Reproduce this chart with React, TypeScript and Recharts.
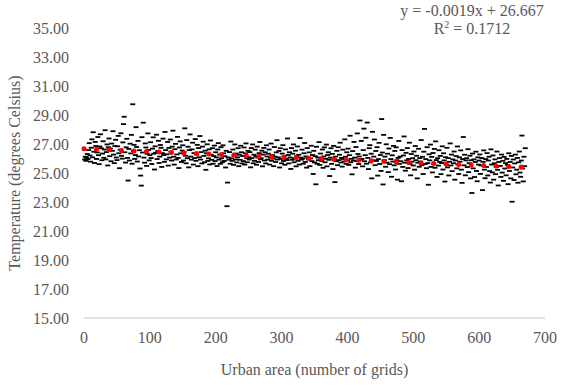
import React from "react";
import { ScatterChart, Scatter, XAxis, YAxis, Label } from "recharts";

// urban area (number of grids) runs 1..670, one temperature reading per grid
const temps: number[] = [
  25.93, 26.12, 25.84, 26.05, 26.31, 25.96, 26.58, 27.06, 26.21, 25.78,
  26.74, 27.32, 26.08, 27.81, 26.47, 25.69, 27.14, 26.86, 25.97, 26.42,
  27.48, 26.23, 25.61, 26.83, 27.67, 26.71, 25.88, 26.34, 27.19, 26.05,
  26.62, 27.95, 25.94, 26.44, 26.97, 25.52, 26.78, 27.38, 26.16, 26.69,
  25.81, 27.03, 26.53, 27.88, 26.27, 25.68, 26.86, 27.29, 26.07, 25.89,
  26.84, 27.56, 26.36, 25.33, 26.61, 27.74, 26.18, 25.99, 27.11, 28.37,
  28.88, 26.43, 25.72, 26.77, 27.36, 26.04, 24.48, 26.66, 25.86, 27.02,
  26.35, 27.63, 25.64, 29.74, 26.52, 26.94, 25.97, 26.24, 28.16, 26.79,
  25.79, 27.21, 26.14, 26.57, 25.31, 24.82, 24.13, 27.47, 26.41, 28.47,
  26.06, 25.71, 27.04, 26.76, 25.49, 26.32, 27.73, 26.59, 25.87, 26.23,
  27.12, 26.03, 25.62, 26.68, 27.46, 26.33, 25.24, 26.84, 26.39, 27.64,
  25.96, 26.51, 27.22, 25.69, 26.13, 26.93, 26.74, 25.42, 26.37, 27.37,
  26.24, 25.77, 27.83, 26.58, 25.94, 26.29, 27.14, 25.51, 26.73, 26.06,
  27.31, 26.47, 25.86, 26.82, 27.92, 26.12, 25.58, 26.64, 27.01, 25.93,
  26.28, 27.49, 26.04, 25.34, 26.76, 27.18, 26.36, 25.76, 26.55, 26.91,
  25.86, 26.46, 28.08, 26.19, 25.67, 27.27, 26.02, 26.81, 25.39, 26.58,
  27.66, 26.13, 25.92, 26.63, 27.09, 25.58, 26.37, 26.03, 27.34, 25.84,
  26.27, 26.94, 25.47, 26.72, 26.09, 27.55, 25.93, 26.44, 25.66, 26.82,
  27.16, 26.18, 25.74, 26.54, 25.22, 26.36, 26.98, 25.83, 26.01, 26.63,
  25.59, 27.24, 26.26, 25.91, 26.71, 25.64, 26.17, 26.89, 25.82, 26.43,
  26.08, 25.48, 26.62, 27.06, 25.92, 26.27, 25.63, 26.78, 26.02, 25.74,
  26.91, 26.36, 25.83, 26.16, 25.38, 26.53, 22.71, 24.34, 26.07, 25.92,
  26.44, 25.64, 27.17, 26.01, 25.84, 26.62, 25.56, 26.18, 26.97, 25.93,
  26.34, 25.73, 26.08, 26.71, 25.47, 26.26, 25.91, 26.88, 26.43, 25.66,
  26.17, 25.82, 26.76, 25.58, 26.36, 27.04, 26.02, 25.74, 26.53, 26.09,
  25.93, 26.44, 25.39, 26.72, 26.03, 26.97, 25.67, 26.26, 25.84, 26.61,
  26.16, 25.57, 26.82, 26.07, 25.76, 26.37, 27.14, 25.94, 26.02, 26.54,
  25.46, 26.27, 26.73, 25.86, 26.43, 25.66, 26.91, 26.14, 25.92, 26.33,
  26.62, 25.58, 26.06, 27.03, 25.84, 26.24, 25.99, 25.47, 26.79, 26.13,
  25.76, 26.42, 27.26, 25.93, 26.08, 26.52, 25.38, 26.71, 25.97, 25.67,
  26.34, 26.92, 25.83, 26.16, 25.57, 26.63, 25.98, 25.89, 27.38, 26.24,
  25.66, 26.43, 26.07, 25.28, 26.72, 25.91, 26.33, 26.97, 25.74, 26.02,
  26.54, 25.46, 26.17, 26.83, 25.84, 26.26, 25.58, 27.41, 26.06, 25.92,
  26.61, 25.99, 25.64, 26.36, 27.07, 25.76, 26.14, 25.37, 26.72, 26.04,
  25.93, 26.42, 25.47, 26.01, 26.88, 25.82, 26.24, 24.93, 26.53, 25.73,
  26.16, 24.22, 26.81, 25.64, 26.07, 25.88, 27.13, 25.56, 26.34, 25.97,
  25.83, 26.62, 25.36, 26.14, 26.77, 25.74, 25.98, 26.96, 25.46, 26.24,
  26.43, 25.91, 24.79, 26.06, 26.71, 25.63, 26.32, 25.27, 26.87, 25.96,
  24.37, 26.13, 25.81, 26.53, 25.54, 26.78, 25.89, 26.26, 27.09, 25.72,
  26.04, 25.44, 26.61, 25.97, 25.79, 27.32, 26.12, 25.63, 26.43, 25.87,
  26.68, 25.56, 26.23, 27.57, 25.74, 25.98, 24.91, 26.51, 25.86, 27.14,
  26.06, 25.37, 26.79, 25.82, 27.73, 26.31, 25.62, 26.14, 28.62, 25.91,
  27.21, 25.97, 25.46, 26.58, 28.06, 25.81, 26.23, 27.43, 25.64, 28.48,
  26.04, 25.27, 26.71, 26.92, 25.73, 26.33, 24.63, 27.84, 25.88, 26.13,
  27.31, 25.54, 26.52, 25.83, 26.78, 24.82, 25.96, 27.08, 25.62, 26.24,
  25.14, 28.72, 26.41, 24.21, 27.63, 25.89, 26.13, 25.43, 26.98, 25.72,
  26.33, 25.06, 26.69, 25.61, 27.42, 25.96, 24.74, 26.22, 25.79, 26.87,
  25.53, 26.52, 25.24, 26.77, 25.88, 24.54, 26.04, 27.21, 25.63, 26.13,
  25.81, 24.43, 26.58, 25.42, 26.21, 27.52, 25.71, 25.16, 26.39, 25.87,
  26.72, 25.34, 25.97, 27.09, 25.62, 24.84, 26.31, 25.78, 26.02, 25.52,
  26.48, 25.23, 26.86, 25.88, 26.19, 24.63, 25.71, 26.67, 25.43, 26.03,
  25.79, 27.27, 25.54, 26.12, 24.93, 26.47, 28.04, 25.62, 25.96, 25.33,
  26.78, 25.68, 24.19, 26.29, 25.87, 26.96, 25.42, 26.11, 25.04, 26.38,
  25.61, 26.66, 25.36, 27.18, 25.89, 24.73, 26.02, 25.51, 26.57, 25.76,
  26.18, 24.92, 25.69, 26.84, 25.24, 26.36, 25.87, 24.41, 26.09, 25.58,
  26.74, 25.39, 26.03, 24.83, 25.77, 27.04, 25.52, 26.27, 25.13, 25.94,
  25.67, 26.48, 24.54, 25.86, 26.17, 25.32, 26.83, 25.59, 24.93, 26.08,
  25.78, 26.56, 25.23, 24.32, 25.96, 27.48, 25.53, 26.26, 24.84, 25.87,
  26.02, 25.41, 26.64, 25.06, 25.68, 26.19, 24.63, 25.88, 23.62, 26.34,
  25.32, 25.94, 24.72, 25.76, 26.47, 25.14, 24.43, 26.08, 25.58, 25.86,
  26.28, 24.94, 25.52, 26.03, 23.82, 25.77, 26.56, 25.23, 24.64, 25.96,
  25.42, 26.37, 24.83, 25.86, 26.12, 25.13, 24.34, 26.63, 25.58, 25.04,
  26.21, 24.54, 25.67, 25.94, 24.92, 25.41, 26.48, 25.22, 24.14, 25.76,
  26.03, 25.49, 24.73, 26.27, 25.03, 25.84, 24.46, 26.11, 25.31, 25.68,
  24.84, 25.97, 25.56, 24.23, 26.36, 25.14, 25.76, 24.63, 26.18, 23.02,
  25.38, 25.93, 24.52, 25.66, 26.27, 24.91, 25.23, 26.04, 24.33, 25.74,
  26.48, 25.03, 24.74, 25.86, 27.58, 25.31, 24.42, 26.12, 25.47, 26.71,
];

// linear trendline ends (y = -0.0019x + 26.667 over the data range)
const trendX = [0, 668];
const trendY = [26.667, 25.398];

const xTicks = [0, 100, 200, 300, 400, 500, 600, 700];
const yTicks = [15, 17, 19, 21, 23, 25, 27, 29, 31, 33, 35];

const points = temps.map((t, i) => ({ x: i + 1, y: t }));
const trend = trendX.map((x, i) => ({ x, y: trendY[i] }));

const FONT = "'Liberation Serif', 'Times New Roman', serif";
const GREY = "#595959";
const tickStyle = { fill: GREY, fontSize: 16, fontFamily: FONT };

// Excel-style dash marker
const Dash = (p: any) => (
  <rect x={p.cx - 2.5} y={p.cy - 0.9} width={5} height={1.8} fill="#000" />
);

export default function App() {
  return (
    <div style={{ position: "relative", width: 573, height: 386, background: "#fff", fontFamily: FONT }}>
      <style>{"body{margin:0} .recharts-text{font-family:'Liberation Serif','Times New Roman',serif}"}</style>
      <ScatterChart width={573} height={386} margin={{ top: 28, right: 28, bottom: 0, left: 0 }}>
        <XAxis
          type="number"
          dataKey="x"
          domain={[0, 700]}
          ticks={xTicks}
          tickLine={false}
          tickSize={0}
          tickMargin={14}
          axisLine={{ stroke: "#d9d9d9", strokeWidth: 1.5 }}
          tick={tickStyle}
          height={68}
        >
          <Label
            value="Urban area (number of grids)"
            position="insideBottom"
            offset={11}
            style={{ fill: GREY, fontSize: 16, fontFamily: FONT }}
          />
        </XAxis>
        <YAxis
          type="number"
          dataKey="y"
          domain={[15, 35]}
          ticks={yTicks}
          tickFormatter={(v: number) => v.toFixed(2)}
          tickLine={false}
          tickSize={0}
          tickMargin={15}
          axisLine={false}
          tick={tickStyle}
          width={84}
        >
          <Label
            content={({ viewBox }: any) => {
              const cx = viewBox.x + 20;
              const cy = viewBox.y + viewBox.height / 2;
              return (
                <text
                  x={cx}
                  y={cy}
                  transform={`rotate(-90 ${cx} ${cy})`}
                  textAnchor="middle"
                  fill={GREY}
                  fontSize={16}
                  fontFamily={FONT}
                >
                  Temperature (degrees Celsius)
                </text>
              );
            }}
          />
        </YAxis>
        <Scatter data={points} shape={Dash} isAnimationActive={false} />
        <Scatter
          data={trend}
          shape={() => <g />}
          line={{ stroke: "#ff0000", strokeWidth: 5, strokeDasharray: "0 12.5", strokeLinecap: "round" }}
          isAnimationActive={false}
        />
      </ScatterChart>
      <div
        style={{
          position: "absolute",
          left: 372,
          top: 2,
          width: 200,
          textAlign: "center",
          fontSize: 16,
          lineHeight: "18px",
          color: GREY,
        }}
      >
        <div>y = -0.0019x + 26.667</div>
        <div>
          R<sup style={{ fontSize: 10, verticalAlign: "top", lineHeight: "10px" }}>2</sup> = 0.1712
        </div>
      </div>
    </div>
  );
}
